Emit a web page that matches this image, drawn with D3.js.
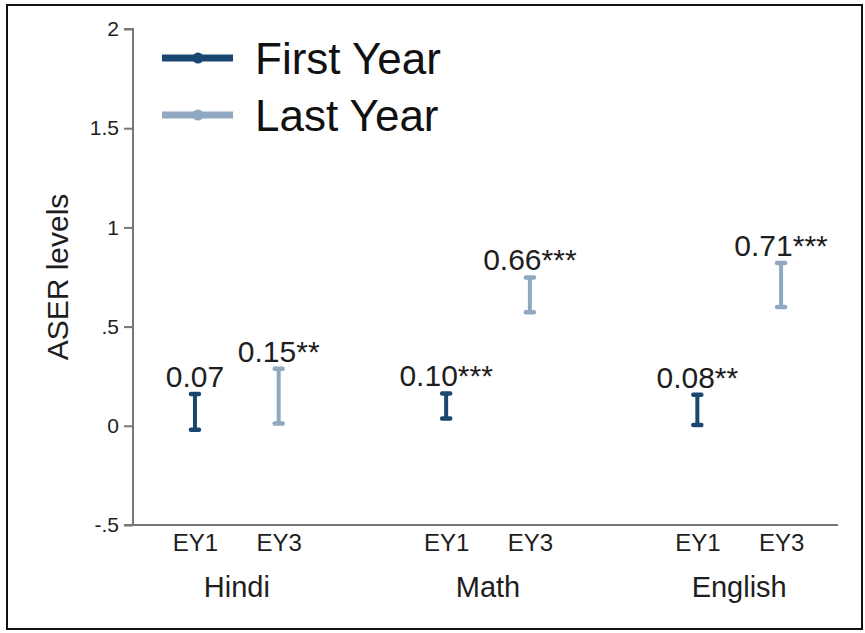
<!DOCTYPE html>
<html>
<head>
<meta charset="utf-8">
<script src="https://cdn.jsdelivr.net/npm/d3@7/dist/d3.min.js"></script>
<style>
  html, body { margin: 0; padding: 0; background: #fff; }
  svg { display: block; font-family: "Liberation Sans", Arial, Helvetica, sans-serif; }
</style>
</head>
<body>
<svg id="chart" width="865" height="633"></svg>
<script>
// Subjects and survey rounds
const subjects = ["Hindi", "Math", "English"];
const rounds = ["EY1", "EY3"];
const seriesNames = ["First Year", "Last Year"];

// Point estimates (ASER levels) by subject, first and last year
const firstYearEst = [0.07, 0.10, 0.08];
const lastYearEst = [0.15, 0.66, 0.71];

// Half-width of the confidence interval around each estimate
const firstYearMargin = [0.090, 0.063, 0.076];
const lastYearMargin = [0.138, 0.088, 0.111];

// Significance stars
const firstYearStars = ["", "***", "**"];
const lastYearStars = ["**", "***", "***"];

// Y-axis ticks
const yTicks = [-0.5, 0, 0.5, 1, 1.5, 2];
const yTickLabels = ["-.5", "0", ".5", "1", "1.5", "2"];

const colors = ["#1a476f", "#90a8c2"];
const textColor = "#1e1e1e";

const svg = d3.select("#chart");

// Outer frame
svg.append("rect")
  .attr("x", 7).attr("y", 5)
  .attr("width", 855).attr("height", 624)
  .attr("fill", "none")
  .attr("stroke", "#111")
  .attr("stroke-width", 2);

const plot = { left: 133, right: 838, top: 29, bottom: 525 };

const y = d3.scaleLinear().domain([-0.5, 2]).range([plot.bottom, plot.top]);
// Positions: each subject gets two slots, with a gap slot between subjects
const x = d3.scaleLinear().domain([0.26, 8.68]).range([plot.left, plot.right]);
const slot = (si, ri) => si * 3 + ri + 1;

// Y axis
const yAxis = d3.axisLeft(y)
  .tickValues(yTicks)
  .tickFormat((d, i) => yTickLabels[i])
  .tickSize(9)
  .tickPadding(5);
const gy = svg.append("g")
  .attr("transform", `translate(${plot.left},0)`)
  .call(yAxis);
gy.select(".domain").attr("stroke", "#777").attr("stroke-width", 2)
  .attr("d", `M-9,${plot.top}H0V${plot.bottom}H-9`);
gy.selectAll(".tick line").attr("stroke", "#777").attr("stroke-width", 2);
gy.selectAll(".tick text").attr("fill", textColor).style("font-size", "21px");

// X axis with round labels
const xPositions = [];
const xLabels = [];
subjects.forEach((s, si) => rounds.forEach((r, ri) => { xPositions.push(slot(si, ri)); xLabels.push(r); }));
const xAxis = d3.axisBottom(x)
  .tickValues(xPositions)
  .tickFormat((d, i) => xLabels[i])
  .tickSize(0)
  .tickPadding(9);
const gx = svg.append("g")
  .attr("transform", `translate(0,${plot.bottom})`)
  .call(xAxis);
gx.select(".domain").attr("stroke", "#777").attr("stroke-width", 2)
  .attr("d", `M${plot.left},0H${plot.right}`);
gx.selectAll(".tick text").attr("fill", textColor).style("font-size", "24px");

// Subject labels under each pair
svg.append("g").selectAll("text")
  .data(subjects)
  .join("text")
  .attr("x", (d, si) => (x(slot(si, 0)) + x(slot(si, 1))) / 2)
  .attr("y", 597)
  .attr("text-anchor", "middle")
  .attr("fill", textColor)
  .style("font-size", "29px")
  .text(d => d);

// Y-axis title
svg.append("text")
  .attr("transform", `translate(68,${(plot.top + plot.bottom) / 2}) rotate(-90)`)
  .attr("text-anchor", "middle")
  .attr("fill", textColor)
  .style("font-size", "30px")
  .text("ASER levels");

// Build error-bar records
const series = [
  { est: firstYearEst, margin: firstYearMargin, stars: firstYearStars },
  { est: lastYearEst, margin: lastYearMargin, stars: lastYearStars }
];
const bars = [];
subjects.forEach((s, si) => series.forEach((ser, ri) => {
  bars.push({
    pos: slot(si, ri),
    est: ser.est[si],
    lo: ser.est[si] - ser.margin[si],
    hi: ser.est[si] + ser.margin[si],
    label: ser.est[si].toFixed(2) + ser.stars[si],
    color: colors[ri]
  });
}));

const gBars = svg.append("g");
const capHalf = 4;
bars.forEach(b => {
  const g = gBars.append("g");
  g.append("line")
    .attr("x1", x(b.pos)).attr("x2", x(b.pos))
    .attr("y1", y(b.lo)).attr("y2", y(b.hi))
    .attr("stroke", b.color).attr("stroke-width", 4);
  [b.lo, b.hi].forEach(v => {
    g.append("line")
      .attr("x1", x(b.pos) - capHalf).attr("x2", x(b.pos) + capHalf)
      .attr("y1", y(v)).attr("y2", y(v))
      .attr("stroke", b.color).attr("stroke-width", 4.5)
      .attr("stroke-linecap", "round");
  });
  g.append("text")
    .attr("x", x(b.pos))
    .attr("y", y(b.hi) - 7)
    .attr("text-anchor", "middle")
    .attr("fill", textColor)
    .style("font-size", "30px")
    .text(b.label);
});

// Legend
const legend = svg.append("g");
seriesNames.forEach((name, i) => {
  const ly = 58 + i * 57;
  legend.append("line")
    .attr("x1", 162).attr("x2", 233)
    .attr("y1", ly).attr("y2", ly)
    .attr("stroke", colors[i]).attr("stroke-width", 7);
  legend.append("circle")
    .attr("cx", 198).attr("cy", ly).attr("r", 5.5)
    .attr("fill", colors[i]);
  legend.append("text")
    .attr("x", 255).attr("y", ly + 16)
    .attr("fill", "#111")
    .style("font-size", "44px")
    .text(name);
});
</script>
</body>
</html>
